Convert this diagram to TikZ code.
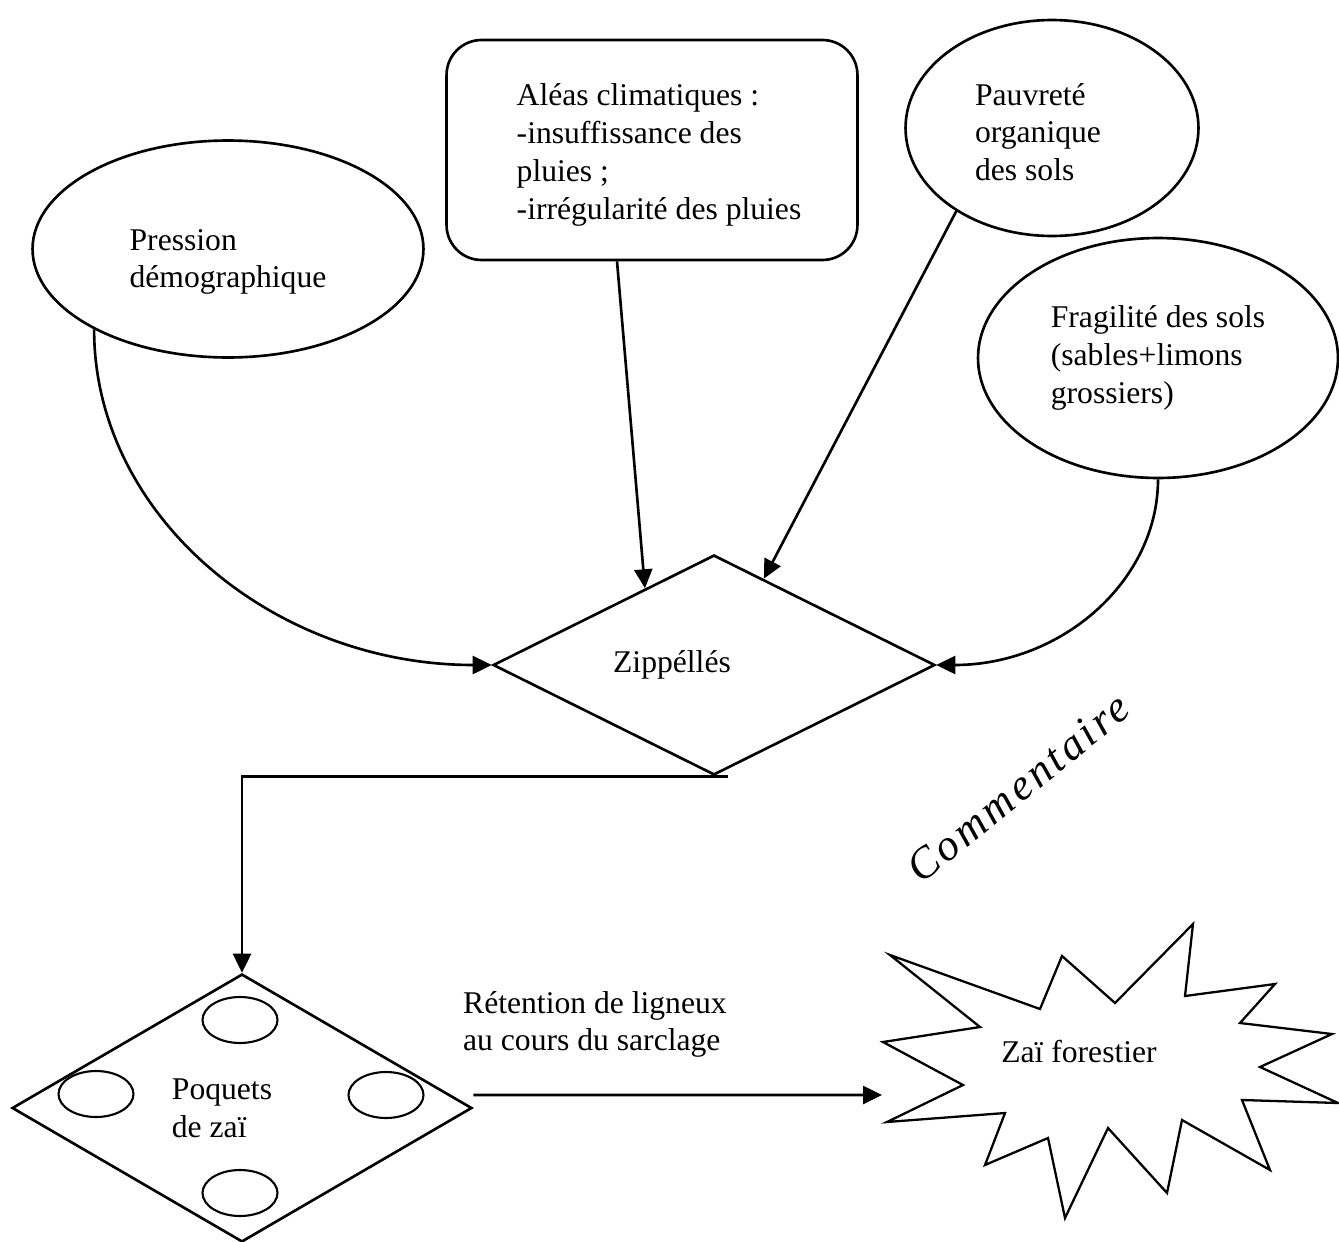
\documentclass[tikz,border=0pt]{standalone}
\usepackage{fontspec}
\setmainfont{Liberation Serif}
\newfontfamily\handfont[LetterSpace=8]{Liberation Serif}
\usetikzlibrary{shapes.geometric}
\usetikzlibrary{arrows.meta}
\usetikzlibrary{positioning}

\begin{document}
\begin{tikzpicture}[x=0.02cm, y=-0.02cm, line width=1.5pt, >={Triangle[length=0.38cm, width=0.36cm]},
			every node/.style={font=\fontsize{18}{21.5}\selectfont},
			cause/.style={draw, ellipse, inner sep=0pt, align=left},
			hazard/.style={draw, rectangle, rounded corners=0.7cm, inner sep=0pt, align=left},
			decision/.style={draw, diamond, inner sep=0pt},
			hole/.style={draw, ellipse, line width=1.2pt, minimum width=1.5cm, minimum height=0.92cm}]
			\useasboundingbox (0,0) rectangle (1339,1241);
			
			\node[cause, minimum width=7.82cm, minimum height=4.34cm, label={[yshift=-0.26cm, align=left]center:{Pression\\démographique}}](pression) at (228, 249) {};
			
			\node[hazard, minimum width=8.22cm, minimum height=4.4cm, label={[xshift=0.14cm, yshift=-0.1cm, align=left]center:{Aléas climatiques :\\-insuffissance des\\pluies ;\\-irrégularité des pluies}}](aleas) at (652, 150) {};
			
			\node[cause, minimum width=5.86cm, minimum height=4.32cm, label={[xshift=-0.28cm, yshift=-0.08cm, align=left]center:{Pauvreté\\organique\\des sols}}](pauvrete) at (1052, 128) {};
			
			\node[cause, minimum width=7.2cm, minimum height=4.8cm](fragilite) at (1158, 358) {Fragilité des sols\\(sables+limons\\grossiers)};
			
			\node[decision, minimum width=8.84cm, minimum height=4.4cm, label={[xshift=-0.84cm]center:Zippéllés}](zip) at (714, 665) {};
			
			\node[decision, minimum width=9.2cm, minimum height=5.36cm, label={[xshift=-0.4cm, align=left]center:{Poquets\\de zaï}}](poquets) at (242, 1108) {};
			\foreach \x/\y/\name in {240/1020/holeN, 96/1094/holeW, 386/1095/holeE, 240/1193/holeS}
				\node[hole](\name) at (\x, \y) {};
			
			\draw[line width=1.3pt] (890,955) -- (980,1027) -- (883,1042) -- (963,1085) -- (887,1122) -- (1005,1113) -- (985,1165) -- (1048,1138) -- (1065,1218) -- (1108,1128) -- (1167,1193) -- (1182,1120) -- (1270,1170) -- (1242,1100) -- (1338,1103) -- (1260,1067) -- (1332,1034) -- (1240,1023) -- (1275,984) -- (1185,996) -- (1193,924) -- (1115,1003) -- (1062,956) -- (1040,1009) -- cycle;
			\node(zai) at (1079, 1052) {Zaï forestier};
			\coordinate(starL) at (882, 1095);
			
			\node[align=left, anchor=north west](retention) at (456, 984) {Rétention de ligneux\\au cours du sarclage};
			
			\node[rotate=39, font=\handfont\itshape\fontsize{25}{27}\selectfont](comment) at (1018, 788) {Commentaire};
			
			\draw[->] (pression.211) .. controls +(0,186) and +(-219,0) .. (zip.west);
			\draw[->] ([xshift=-0.7cm]aleas.south) -- (zip.132);
			\draw[->] (pauvrete.221) -- (zip.60);
			\draw[->] (fragilite.south) .. controls +(0,102) and +(125,0) .. (zip.east);
			\draw[->] ([xshift=0.28cm]zip.south) -| (poquets.north);
			\draw[->] ([yshift=0.26cm]poquets.east) -- (starL);
			\end{tikzpicture}
\end{document}
